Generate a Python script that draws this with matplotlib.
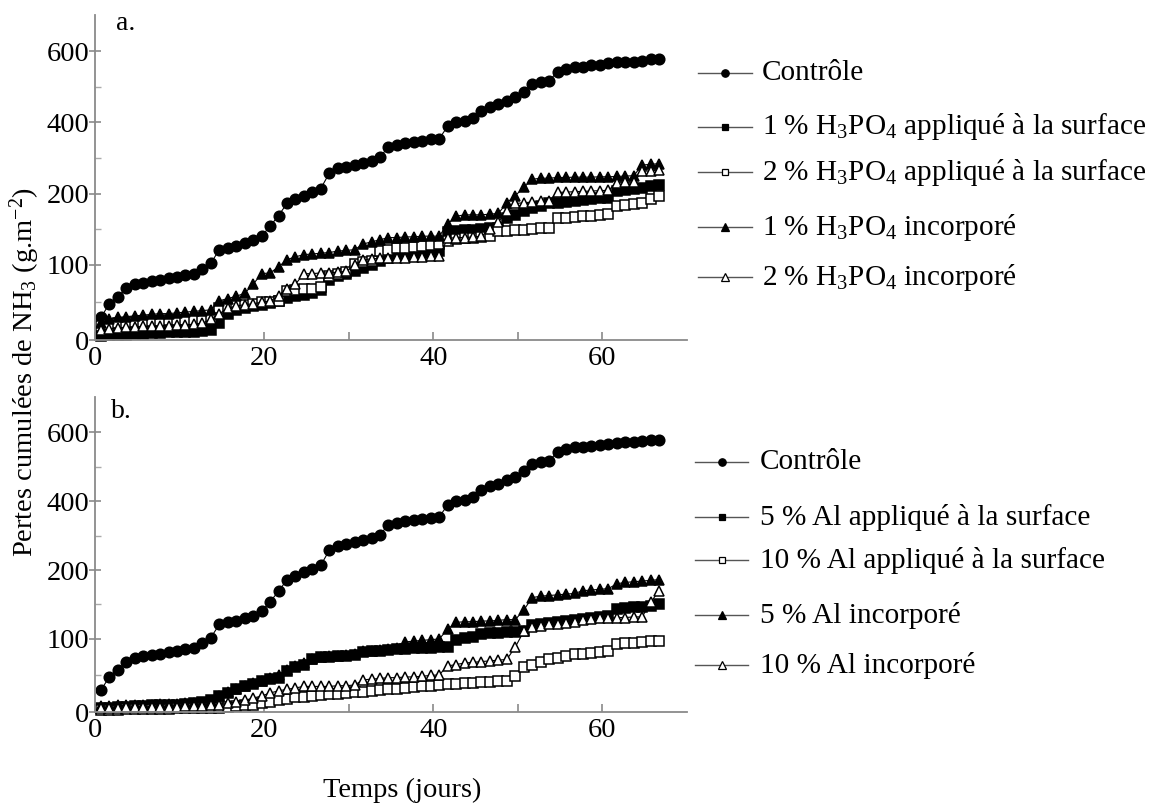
import numpy as np
import matplotlib
matplotlib.use("Agg")
import matplotlib.pyplot as plt

plt.rcParams['font.family'] = ['Liberation Serif', 'DejaVu Serif']
plt.rcParams['mathtext.fontset'] = 'custom'
plt.rcParams['mathtext.rm'] = 'Liberation Serif'
plt.rcParams['mathtext.it'] = 'Liberation Serif:italic'
plt.rcParams['mathtext.bf'] = 'Liberation Serif:bold'

# ---------------- data (g NH3 / m2, one value per day) ----------------
CONTROLE = [30, 48, 57, 69, 74, 76, 78, 80, 82, 84,
            86, 88, 94, 102, 121, 124, 126, 130, 134, 140,
            154, 169, 186, 192, 197, 203, 214, 257, 271, 275,
            280, 286, 292, 303, 331, 337, 343, 346, 349, 352,
            354, 389, 400, 404, 411, 431, 443, 451, 460, 471,
            486, 509, 514, 517, 543, 551, 557, 557, 560, 562,
            566, 569, 571, 571, 574, 577, 578]

# panel a : H3PO4
A_1_SURF = [5, 6, 7, 7, 8, 8, 9, 9, 10, 10, 11, 11, 12, 13,
            22, 35, 40, 43, 45, 47, 49, 52, 56, 58, 60, 63, 66, 80, 85, 88,
            92, 96, 100, 105, 110, 112, 114, 115, 116, 118, 119, 146, 147, 148,
            149, 150, 151, 152, 165, 170, 175, 180, 183, 186, 187, 188, 190, 191,
            192, 193, 194, 207, 210, 212, 215, 220, 225]
A_2_SURF = [18, 20, 22, 23, 24, 24, 25, 25, 26, 26, 27, 27, 28, 28,
            43, 45, 46, 47, 48, 50, 51, 52, 65, 66, 67, 68, 70, 85, 88, 90,
            101, 103, 105, 119, 121, 123, 124, 125, 126, 127, 129, 133, 136, 137,
            138, 139, 140, 147, 147, 148, 149, 150, 151, 152, 165, 166, 167, 168,
            169, 170, 171, 183, 184, 185, 186, 192, 197]
A_1_INC = [22, 28, 30, 31, 32, 33, 34, 35, 35, 36, 37, 38, 39, 40,
           52, 55, 58, 62, 74, 88, 89, 97, 107, 111, 114, 115, 116, 117, 119, 120,
           121, 129, 132, 135, 138, 138, 139, 139, 140, 140, 140, 157, 168, 170,
           170, 170, 171, 172, 187, 197, 217, 240, 243, 243, 245, 245, 246, 246,
           246, 247, 247, 248, 249, 250, 280, 282, 284]
A_2_INC = [13, 15, 16, 17, 17, 18, 18, 19, 19, 20, 20, 21, 22, 28,
           35, 42, 45, 47, 48, 50, 52, 58, 68, 74, 88, 88, 89, 89, 90, 91,
           100, 107, 108, 109, 110, 110, 110, 111, 111, 112, 112, 137, 138, 138,
           139, 140, 150, 160, 175, 186, 187, 188, 189, 190, 203, 204, 205, 206,
           207, 208, 209, 230, 231, 232, 262, 264, 266]

# panel b : Al
B_5_SURF = [5, 6, 7, 7, 8, 8, 9, 9, 10, 10, 11, 12, 14, 17,
            22, 26, 32, 35, 39, 42, 45, 47, 56, 62, 65, 72, 75, 75, 76, 76,
            78, 82, 83, 84, 85, 86, 86, 87, 88, 88, 89, 89, 99, 101,
            103, 107, 108, 109, 110, 110, 111, 120, 122, 123, 124, 126, 127, 129,
            130, 132, 134, 143, 145, 146, 147, 148, 150]
B_10_SURF = [3, 3, 3, 4, 4, 4, 4, 4, 4, 5, 5, 5, 5, 5,
             6, 7, 8, 9, 10, 12, 14, 16, 18, 20, 21, 22, 23, 24, 25, 26,
             27, 28, 29, 30, 31, 32, 33, 34, 35, 36, 37, 38, 39, 40,
             40, 41, 41, 42, 42, 49, 62, 65, 68, 72, 74, 76, 79, 80,
             81, 82, 83, 93, 94, 95, 96, 97, 97]
B_5_INC = [8, 8, 9, 9, 10, 10, 10, 11, 11, 11, 12, 12, 13, 15,
           22, 27, 32, 36, 40, 43, 46, 50, 58, 63, 67, 72, 75, 76, 77, 78,
           80, 83, 84, 85, 86, 88, 96, 97, 98, 99, 100, 114, 124, 125,
           125, 126, 126, 127, 128, 128, 142, 160, 162, 163, 164, 165, 166, 170,
           171, 172, 173, 180, 182, 183, 184, 185, 186]
B_10_INC = [6, 6, 6, 7, 7, 7, 7, 7, 7, 7, 8, 8, 8, 9,
            10, 12, 14, 16, 19, 22, 26, 29, 31, 33, 35, 35, 35, 35, 36, 36,
            37, 44, 45, 46, 47, 47, 48, 48, 49, 50, 51, 63, 65, 67,
            68, 69, 70, 71, 72, 89, 111, 118, 119, 121, 122, 123, 124, 128,
            129, 130, 130, 131, 131, 132, 132, 153, 170]

Y_TICKS = [0, 100, 200, 400, 600]
Y_MINOR = [50, 150, 300, 500]
X_TICKS = [0, 20, 40, 60]
X_MINOR = [30, 50]

LEG_A = ["Contrôle",
         r"1 % H$_\mathrm{3}$PO$_\mathrm{4}$ appliqué à la surface",
         r"2 % H$_\mathrm{3}$PO$_\mathrm{4}$ appliqué à la surface",
         r"1 % H$_\mathrm{3}$PO$_\mathrm{4}$ incorporé",
         r"2 % H$_\mathrm{3}$PO$_\mathrm{4}$ incorporé"]
LEG_B = ["Contrôle",
         "5 % Al appliqué à la surface",
         "10 % Al appliqué à la surface",
         "5 % Al incorporé",
         "10 % Al incorporé"]


# ---------------- broken (piecewise linear) y scale ----------------
def fwd(v):
    v = np.asarray(v, float)
    return np.where(v < 100, v * 0.0106,
                    np.where(v < 200, 1.06 + (v - 100) / 100.0,
                             2.06 + (v - 200) / 200.0))


def inv(t):
    t = np.asarray(t, float)
    return np.where(t < 1.06, t / 0.0106,
                    np.where(t < 2.06, 100 + (t - 1.06) * 100.0,
                             200 + (t - 2.06) * 200.0))


STYLES = [dict(marker='o', ms=7.6, mfc='black'),
          dict(marker='s', ms=6.8, mfc='black'),
          dict(marker='s', ms=6.8, mfc='white'),
          dict(marker='^', ms=7.8, mfc='black'),
          dict(marker='^', ms=7.8, mfc='white')]

W, H = 1153, 805
fig = plt.figure(figsize=(W / 100, H / 100), dpi=100)


def make_axes(top_px, bottom_px):
    left, right = 95, 687
    return fig.add_axes([left / W, 1 - bottom_px / H, (right - left) / W,
                         (bottom_px - top_px) / H])


def style_axes(ax):
    ax.set_yscale('function', functions=(fwd, inv))
    ax.set_xlim(0, 70)
    ax.set_ylim(0, 702)
    for s in ['top', 'right']:
        ax.spines[s].set_visible(False)
    for s in ['left', 'bottom']:
        ax.spines[s].set_color('#8a8a8a')
        ax.spines[s].set_linewidth(1.3)
    ax.set_yticks(Y_TICKS)
    ax.set_yticklabels([str(v) for v in Y_TICKS])
    ax.set_yticks(Y_MINOR, minor=True)
    ax.set_xticks(X_TICKS)
    ax.set_xticklabels([str(v) for v in X_TICKS])
    ax.set_xticks(X_MINOR, minor=True)
    ax.tick_params(axis='y', which='major', direction='inout', length=8,
                   width=1.2, color='#8a8a8a', labelsize=20.5, pad=0)
    ax.tick_params(axis='y', which='minor', direction='in', length=4,
                   width=1.0, color='#aaaaaa')
    ax.tick_params(axis='x', which='both', direction='in', length=6,
                   width=1.2, color='#8a8a8a', labelsize=20.5, pad=4)
    ax.set_facecolor('none')


def plot_series(ax, series):
    for vals, st in zip(series, STYLES):
        days = np.arange(1, len(vals) + 1) - 0.3
        ax.plot(days, vals, color='black', lw=0.8, marker=st['marker'],
                ms=st['ms'], mfc=st['mfc'], mec='black', mew=1.1,
                clip_on=False)


ax_a = make_axes(15, 340)
style_axes(ax_a)
plot_series(ax_a, [CONTROLE, A_1_SURF, A_2_SURF, A_1_INC, A_2_INC])

ax_b = make_axes(397, 712)
style_axes(ax_b)
plot_series(ax_b, [CONTROLE, B_5_SURF, B_10_SURF, B_5_INC, B_10_INC])

# overlay in pixel coordinates for labels and legends
ov = fig.add_axes([0, 0, 1, 1])
ov.set_xlim(0, W)
ov.set_ylim(H, 0)
ov.axis('off')
ov.patch.set_alpha(0)

ov.text(116, 30, "a.", fontsize=20, ha='left', va='baseline')
ov.text(111, 418, "b.", fontsize=20, ha='left', va='baseline')
ov.text(25, 372, r"Pertes cumulées de NH$_\mathrm{3}$ (g.m$^\mathrm{-2}$)",
        fontsize=20.5, rotation=90, ha='center', va='center')
ov.text(402, 790, "Temps (jours)", fontsize=20.5, ha='center', va='center')


def legend(ys, labels, x0, x1, tx):
    for y, lab, st in zip(ys, labels, STYLES):
        ov.plot([x0, x1], [y, y], color='#555555', lw=1.0)
        ov.plot([(x0 + x1) / 2], [y], marker=st['marker'], ms=st['ms'] * 0.7,
                mfc=st['mfc'], mec='black', mew=0.9, color='black')
        ov.text(tx, y, lab, fontsize=21.1, ha='left', va='center')


legend([73, 127, 172, 227, 277], LEG_A, 698, 752, 762)
legend([462, 517, 560, 615, 665], LEG_B, 695, 748, 760)

fig.savefig("out.png", dpi=100)
